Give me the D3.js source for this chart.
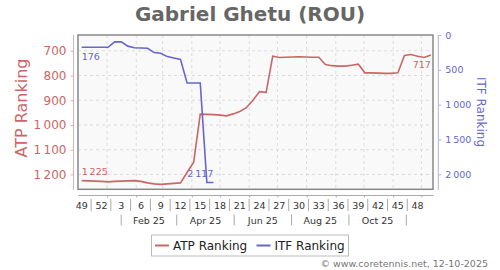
<!DOCTYPE html>
<html>
<head>
<meta charset="utf-8">
<script src="https://cdn.jsdelivr.net/npm/d3@7"></script>
<style>
  body { margin: 0; background: #fff; }
  svg { font-family: "DejaVu Sans", sans-serif; }
</style>
</head>
<body>
<svg width="500" height="270"></svg>
<script>
// weekly rankings, first week = W49 2024
const atpRank = [1225, 1226, 1227, 1228, 1230, 1228, 1227, 1226, 1225, 1228,
                 1234, 1238, 1240, 1238, 1236, 1234, 1192, 1150, 956, 957,
                 958, 960, 963, 955, 945, 930, 900, 865, 868, 722,
                 727, 726, 725, 724, 725, 726, 726, 755, 760, 762,
                 762, 758, 754, 789, 789, 790, 791, 791, 789, 719,
                 715, 722, 727, 717];
const itfRank = [176, 176, 176, 176, 176, 98, 98, 160, 183, 186,
                 190, 252, 262, 310, 330, 350, 690, 690, 690, 2117, 2117];
const firstWeek = new Date(2024, 11, 5);

const weekLabels = [49, 52, 3, 6, 9, 12, 15, 18, 21, 24, 27, 30, 33, 36, 39, 42, 45, 48];
const monthLabels = ['Feb 25', 'Apr 25', 'Jun 25', 'Aug 25', 'Oct 25'];
const monthSeps = ['2025-01-16', '2025-03-16', '2025-05-16', '2025-07-16', '2025-09-15', '2025-11-15'];
const atpTicks = [700, 800, 900, 1000, 1100, 1200];
const itfTicks = [0, 500, 1000, 1500, 2000];

const atpColor = '#cc6666',
      itfColor = '#6666cc';

const plot = { left: 78, right: 433, top: 35, bottom: 189.3 };

const fmt = d3.formatLocale({ decimal: '.', thousands: '\u2009', grouping: [3], currency: ['', ''] }).format(',d');

const weekDate = (i) => d3.timeDay.offset(firstWeek, 7 * i);

let svg = d3.select('svg');

let x = d3.scaleTime()
    .domain([new Date(2024, 11, 1, 2), new Date(2025, 11, 13, 8)])
    .range([plot.left, plot.right]);

let yAtp = d3.scaleLinear()
    .domain([636, 1260])
    .range([plot.top, plot.bottom]);

let yItf = d3.scaleLinear()
    .domain([0, 2215])
    .range([plot.top, plot.bottom]);

// title
svg.append('text')
    .attr('x', 250).attr('y', 20.5)
    .attr('text-anchor', 'middle')
    .attr('font-size', 20).attr('font-weight', 'bold')
    .attr('fill', '#666')
    .text('Gabriel Ghetu (ROU)');

// plot background + grid
svg.append('rect')
    .attr('x', plot.left).attr('y', plot.top)
    .attr('width', plot.right - plot.left).attr('height', plot.bottom - plot.top)
    .attr('fill', '#f9f9f9');

let grid = svg.append('g').attr('stroke', '#dcdcdc').attr('stroke-dasharray', '3,3');
grid.selectAll('line.h').data(atpTicks).enter().append('line')
    .attr('x1', plot.left).attr('x2', plot.right)
    .attr('y1', d => yAtp(d)).attr('y2', d => yAtp(d));
grid.selectAll('line.v').data(x.ticks(d3.timeMonth.every(1))).enter().append('line')
    .attr('x1', d => x(d)).attr('x2', d => x(d))
    .attr('y1', plot.top).attr('y2', plot.bottom);

// lines
const atpLine = d3.line().x((d, i) => x(weekDate(i))).y(d => yAtp(d));
const itfLine = d3.line().x((d, i) => x(weekDate(i))).y(d => yItf(d));

svg.append('path').datum(atpRank)
    .attr('d', atpLine)
    .attr('fill', 'none').attr('stroke', atpColor).attr('stroke-width', 1.6);
svg.append('path').datum(itfRank)
    .attr('d', itfLine)
    .attr('fill', 'none').attr('stroke', itfColor).attr('stroke-width', 1.6);

svg.append('rect')
    .attr('x', plot.left).attr('y', plot.top)
    .attr('width', plot.right - plot.left).attr('height', plot.bottom - plot.top)
    .attr('fill', 'none').attr('stroke', '#888').attr('stroke-width', 1.5);

// end labels: above the point if it sits low, below if high
const midY = (plot.top + plot.bottom) / 2;
const endLabel = (series, y, i, anchor, color) => {
  let py = y(series[i]);
  svg.append('text')
      .attr('x', x(weekDate(i))).attr('y', py > midY ? py - 5.5 : py + 12.8)
      .attr('text-anchor', anchor)
      .attr('font-size', 9.5).attr('fill', color)
      .text(fmt(series[i]));
};
endLabel(atpRank, yAtp, 0, 'start', atpColor);
endLabel(atpRank, yAtp, atpRank.length - 1, 'end', atpColor);
endLabel(itfRank, yItf, 0, 'start', itfColor);
endLabel(itfRank, yItf, itfRank.length - 1, 'end', itfColor);

// left axis (ATP)
let gL = svg.append('g')
    .attr('transform', 'translate(73.5,0)')
    .call(d3.axisLeft(yAtp).tickValues(atpTicks).tickSize(3).tickPadding(4).tickFormat(fmt));
gL.select('.domain').attr('stroke', '#e3b0b0').attr('d', `M0,${plot.top}V190`);
gL.selectAll('.tick line').attr('stroke', '#e3b0b0');
gL.selectAll('.tick text').attr('fill', atpColor).attr('font-size', 12).attr('font-family', 'DejaVu Sans');

svg.append('text')
    .attr('transform', 'translate(26.5,108) rotate(-90)')
    .attr('text-anchor', 'middle')
    .attr('font-size', 16).attr('fill', atpColor)
    .text('ATP Ranking');

// right axis (ITF)
let gR = svg.append('g')
    .attr('transform', 'translate(438.3,0)')
    .call(d3.axisRight(yItf).tickValues(itfTicks).tickSize(3).tickPadding(4).tickFormat(fmt));
gR.select('.domain').attr('stroke', '#b0b0e3').attr('d', `M0,${plot.top}V190`);
gR.selectAll('.tick line').attr('stroke', '#b0b0e3');
gR.selectAll('.tick text').attr('fill', itfColor).attr('font-size', 9.5).attr('font-family', 'DejaVu Sans');

svg.append('text')
    .attr('transform', 'translate(476.5,112) rotate(90)')
    .attr('text-anchor', 'middle')
    .attr('font-size', 12).attr('fill', itfColor)
    .text('ITF Ranking');

// bottom axis: month ticks, week numbers, month names
let gX = svg.append('g')
    .attr('transform', 'translate(0,195)')
    .call(d3.axisBottom(x).ticks(d3.timeMonth.every(1)).tickSize(2.5).tickSizeOuter(0).tickFormat(''));
gX.selectAll('.domain, .tick line').attr('stroke', '#aaa');

svg.selectAll('text.week').data(weekLabels).enter().append('text')
    .attr('class', 'week')
    .attr('x', (d, k) => x(weekDate(3 * k)))
    .attr('y', 208.5)
    .attr('text-anchor', 'middle')
    .attr('font-size', 9.5).attr('fill', '#333')
    .text(d => d);

svg.selectAll('line.weeksep').data(weekLabels.slice(1)).enter().append('line')
    .attr('class', 'weeksep')
    .attr('x1', (d, k) => x(weekDate(3 * k + 1.5))).attr('x2', (d, k) => x(weekDate(3 * k + 1.5)))
    .attr('y1', 199).attr('y2', 211)
    .attr('stroke', '#aaa');

const sepDates = monthSeps.map(d => d3.timeParse('%Y-%m-%d')(d));
svg.selectAll('line.monthsep').data(sepDates).enter().append('line')
    .attr('class', 'monthsep')
    .attr('x1', d => x(d)).attr('x2', d => x(d))
    .attr('y1', 214.5).attr('y2', 225.5)
    .attr('stroke', '#aaa');

svg.selectAll('text.month').data(monthLabels).enter().append('text')
    .attr('class', 'month')
    .attr('x', (d, k) => (x(sepDates[k]) + x(sepDates[k + 1])) / 2)
    .attr('y', 224)
    .attr('text-anchor', 'middle')
    .attr('font-size', 9.5).attr('fill', '#333')
    .text(d => d);

// legend
let legend = svg.append('g');
legend.append('rect')
    .attr('x', 151.5).attr('y', 235).attr('width', 197).attr('height', 21)
    .attr('fill', '#fff').attr('stroke', '#bbb');
[['ATP Ranking', atpColor, 155], ['ITF Ranking', itfColor, 256.5]].forEach(([name, color, lx]) => {
  legend.append('line')
      .attr('x1', lx).attr('x2', lx + 14).attr('y1', 245.5).attr('y2', 245.5)
      .attr('stroke', color).attr('stroke-width', 2);
  legend.append('text')
      .attr('x', lx + 18).attr('y', 250)
      .attr('font-size', 12).attr('fill', '#222')
      .text(name);
});

svg.append('text')
    .attr('x', 488).attr('y', 266.5)
    .attr('text-anchor', 'end')
    .attr('font-size', 9.5).attr('fill', '#777')
    .text('\u00a9 www.coretennis.net, 12-10-2025');
</script>
</body>
</html>
